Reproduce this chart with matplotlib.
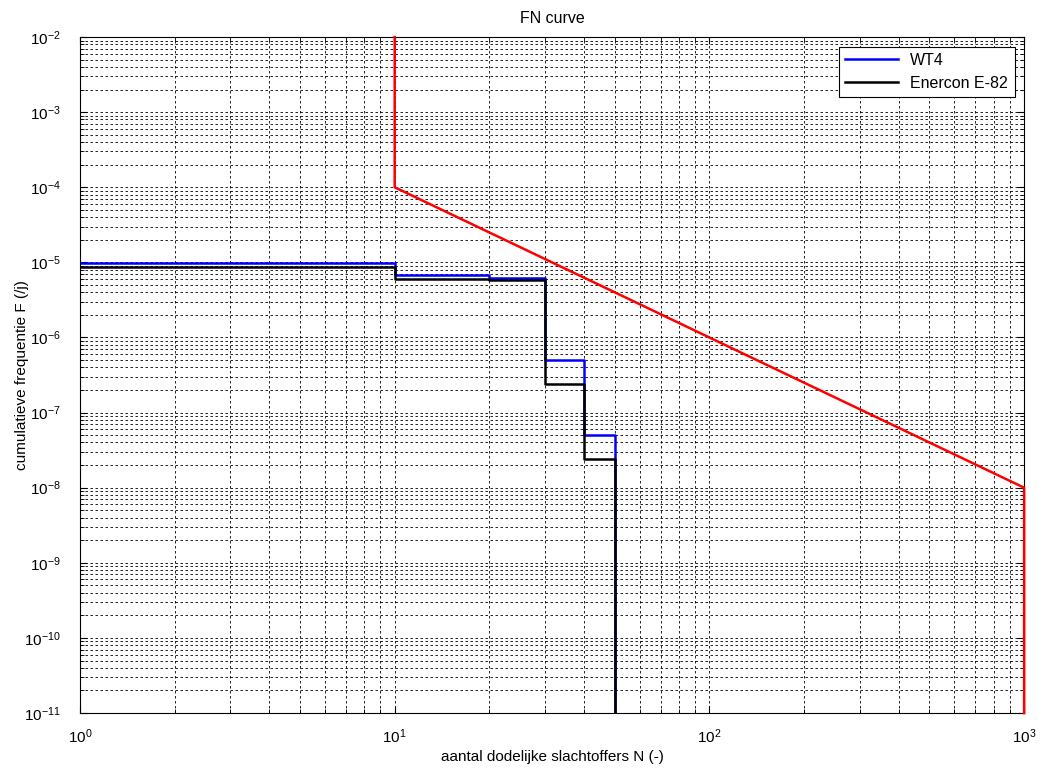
import numpy as np
import matplotlib
matplotlib.use('Agg')
import matplotlib.pyplot as plt
from matplotlib.ticker import LogLocator, NullFormatter

plt.rcParams['font.family'] = ['Liberation Sans', 'DejaVu Sans']
plt.rcParams['mathtext.fontset'] = 'custom'
plt.rcParams['mathtext.rm'] = 'Liberation Sans'
plt.rcParams['mathtext.it'] = 'Liberation Sans:italic'

# step edges (number of fatalities) and cumulative frequency per step
N_edges = [1, 10, 20, 30, 40, 50]
F_wt4 = [9.8e-6, 6.8e-6, 6.2e-6, 5.0e-7, 5.0e-8]
F_enercon = [8.8e-6, 6.0e-6, 5.8e-6, 2.4e-7, 2.4e-8]

# norm line (oriëntatiewaarde groepsrisico)
N_norm = [10, 10, 1000, 1000]
F_norm = [1e-2, 1e-4, 1e-8, 1e-11]

F_floor = 1e-12

fig = plt.figure(figsize=(10.41, 7.69), dpi=100)
ax = fig.add_axes([0.0768, 0.0728, 0.907, 0.879])

ax.step(N_edges, F_wt4 + [F_floor], where='post', color='#0000ff', lw=1.8, label='WT4')
ax.step(N_edges, F_enercon + [F_floor], where='post', color='k', lw=1.8, label='Enercon E-82')
ax.plot(N_norm, F_norm, color='#ff0000', lw=1.8, clip_on=False, zorder=5)

ax.set_xscale('log')
ax.set_yscale('log')
ax.set_xlim(1, 1000)
ax.set_ylim(1e-11, 1e-2)
ax.set_xticks([1, 10, 100, 1000])
ax.set_yticks([10.0 ** k for k in range(-11, -1)])
ax.yaxis.set_minor_locator(LogLocator(base=10, subs=np.arange(2, 10), numticks=200))
ax.yaxis.set_minor_formatter(NullFormatter())
ax.xaxis.set_minor_locator(LogLocator(base=10, subs=np.arange(2, 10), numticks=50))
ax.xaxis.set_minor_formatter(NullFormatter())
ax.set_xlim(1, 1000)
ax.set_ylim(1e-11, 1e-2)

ax.grid(True, which='both', color='k', linestyle=(0, (3, 3)), linewidth=0.6)
ax.tick_params(which='both', direction='in', top=True, right=True, labelsize=11)
ax.tick_params(which='major', length=5)
ax.tick_params(which='minor', length=3, labelleft=False, labelbottom=False)
ax.tick_params(axis='y', pad=14)
ax.tick_params(axis='x', pad=10)
for s in ax.spines.values():
    s.set_linewidth(0.8)

ax.set_title('FN curve', fontsize=11.5, pad=10)
ax.set_xlabel('aantal dodelijke slachtoffers N (-)', fontsize=11)
ax.set_ylabel('cumulatieve frequentie F (/j)', fontsize=11)
ax.xaxis.set_label_coords(0.5, -0.065)
ax.yaxis.set_label_coords(-0.0614, 0.5)
ax.xaxis.label.set_va('center')
ax.yaxis.label.set_va('center')

leg = ax.legend(loc='upper right', fontsize=11.5, fancybox=False, framealpha=1,
                edgecolor='k', borderaxespad=0.6, handlelength=3.3)
leg.get_frame().set_linewidth(0.8)

fig.savefig('out.png', dpi=100)
